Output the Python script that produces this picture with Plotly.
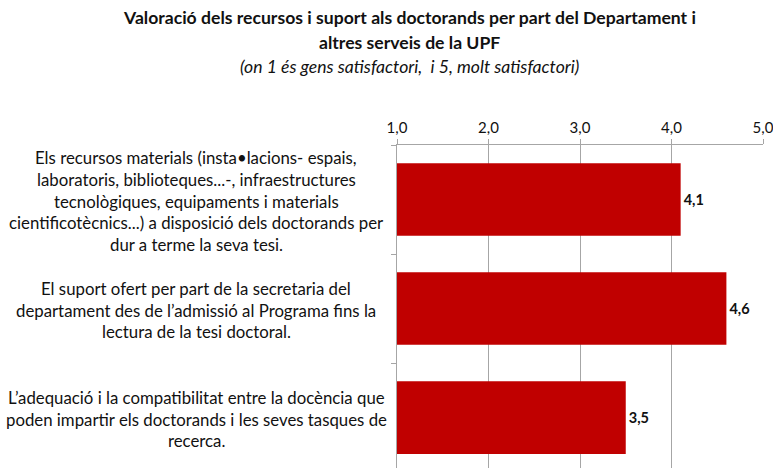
import plotly.graph_objects as go

categories = ["c1", "c2", "c3"]
label_lines = [
    ["Els recursos materials (insta•lacions- espais,",
     "laboratoris, biblioteques...-, infraestructures",
     "tecnològiques, equipaments i materials",
     "cientificotècnics...) a disposició dels doctorands per",
     "dur a terme la seva tesi."],
    ["El suport ofert per part de la secretaria del",
     "departament des de l’admissió al Programa fins la",
     "lectura de la tesi doctoral."],
    ["L’adequació i la compatibilitat entre la docència que",
     "poden impartir els doctorands i les seves tasques de",
     "recerca."],
]
values = [4.1, 4.6, 3.5]
tick_vals = [1, 2, 3, 4, 5]

FONT = "Lato"
W, H = 773, 468
ML, MR, MT, MB = 397, 10, 145, 0
PH = H - MT - MB

fig = go.Figure(go.Bar(
    x=[v - 1 for v in values], y=categories, orientation="h",
    marker=dict(color="#C00000", line=dict(width=0)),
    width=0.667,
    base=1,
    text=[f"<b>{v:.1f}</b>".replace(".", ",") for v in values],
    textposition="outside", cliponaxis=False, constraintext="none",
    textfont=dict(family=FONT, size=14.5, color="#111111"),
))

for i, lines in enumerate(label_lines):
    n = len(lines)
    for j, ln in enumerate(lines):
        fig.add_annotation(
            x=-0.549, xref="paper", y=categories[i], yref="y",
            text=ln, showarrow=False, xanchor="center", yanchor="middle",
            yshift=-(j - (n - 1) / 2) * 21.8 - 1.5,
            font=dict(family=FONT, size=16.8, color="#111111"),
        )

titles = [
    ("<b>Valoració dels recursos i suport als doctorands per part del Departament i</b>", 18),
    ("<b>altres serveis de la UPF</b>", 42),
    ("<i>(on 1 és gens satisfactori,  i 5, molt satisfactori)</i>", 66),
]
for t, py in titles:
    fig.add_annotation(
        x=(409 - ML) / (W - ML - MR), xref="paper", y=(H - MB - py) / PH, yref="paper",
        text=t, showarrow=False, xanchor="center", yanchor="middle",
        font=dict(family=FONT, size=17.6, color="#111111"),
    )

fig.update_layout(
    width=W, height=H,
    margin=dict(l=ML, r=MR, t=MT, b=MB, pad=0),
    plot_bgcolor="white", paper_bgcolor="white",
    separators=",.",
    showlegend=False,
    xaxis=dict(
        side="top", range=[1, 5], tickvals=tick_vals, tickformat=".1f",
        showgrid=True, gridcolor="#A6A6A6", gridwidth=1,
        showline=True, linecolor="#A6A6A6", linewidth=1,
        ticks="outside", ticklen=5, tickcolor="#A6A6A6",
        tickfont=dict(family=FONT, size=15, color="#111111"),
        ticklabeloverflow="allow",
        zeroline=False, fixedrange=True,
    ),
    yaxis=dict(
        type="category", categoryorder="array", categoryarray=categories,
        range=[2.463, -0.5], showticklabels=False,
        showline=True, linecolor="#A6A6A6", linewidth=1,
        ticks="outside", ticklen=5, tickcolor="#A6A6A6", tickson="boundaries",
        showgrid=False, zeroline=False,
    ),
)

fig.write_html("out.html", config={"displayModeBar": False},
               post_script="document.body.style.margin='0';document.body.style.overflow='hidden';")
